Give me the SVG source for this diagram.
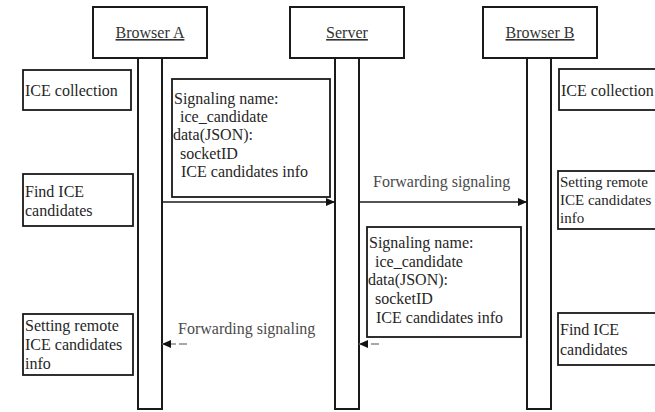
<svg xmlns="http://www.w3.org/2000/svg" width="655" height="412" viewBox="0 0 655 412">
<style>
.bg{fill:#ffffff}
.hdr{fill:#ffffff;stroke:#1a1a1a;stroke-width:2}
.life{fill:#ffffff;stroke:#1a1a1a;stroke-width:2}
.box{fill:#ffffff;stroke:#1a1a1a;stroke-width:1.8}
text{font-family:"Liberation Serif","Times New Roman",serif;font-size:16px;fill:#262626}
.ht{text-anchor:middle;text-decoration:underline;fill:#333}
.lbl{fill:#4a4a4a}
.sm{font-size:15px}
.msg{stroke:#1a1a1a;stroke-width:1.6;fill:none}
.faint{stroke:#8a8a8a;stroke-width:1.4;fill:none;stroke-dasharray:0 148 8 3 14}
</style>
<defs>
<marker id="ah" markerUnits="userSpaceOnUse" markerWidth="9" markerHeight="8" refX="9" refY="4" orient="auto">
<path d="M0,0 L9,4 L0,8 z" fill="#111"/>
</marker>
</defs>
<rect class="bg" x="0" y="0" width="655" height="412"/>

<g id="browserA">
<rect class="hdr" x="93" y="7" width="114" height="51"/>
<text class="ht" x="150" y="38">Browser A</text>
<rect class="life" x="138" y="58" width="24" height="351"/>
</g>
<g id="server">
<rect class="hdr" x="290" y="7" width="114" height="51"/>
<text class="ht" x="347" y="38">Server</text>
<rect class="life" x="335" y="58" width="24" height="351"/>
</g>
<g id="browserB">
<rect class="hdr" x="483" y="7" width="114" height="51"/>
<text class="ht" x="540" y="38">Browser B</text>
<rect class="life" x="527" y="58" width="24" height="351"/>
</g>

<g id="a-ice-collection">
<rect class="box" x="23" y="70" width="108" height="40"/>
<text x="25" y="96">ICE collection</text>
</g>
<g id="a-find-ice">
<rect class="box" x="23" y="174" width="110" height="52"/>
<text x="25" y="197">Find ICE</text>
<text x="25" y="216">candidates</text>
</g>
<g id="a-setting-remote">
<rect class="box" x="23" y="314" width="110" height="61"/>
<text x="25" y="331">Setting remote</text>
<text x="25" y="350">ICE candidates</text>
<text x="25" y="369">info</text>
</g>

<g id="signal-1">
<rect class="box" x="172" y="79" width="158" height="118"/>
<text x="174" y="104">Signaling name:</text>
<text x="180" y="122">ice_candidate</text>
<text x="173" y="140">data(JSON):</text>
<text x="180" y="159">socketID</text>
<text x="181" y="177">ICE candidates info</text>
</g>
<g id="signal-2">
<rect class="box" x="367" y="227" width="154" height="110"/>
<text x="369" y="248">Signaling name:</text>
<text x="375" y="267">ice_candidate</text>
<text x="368" y="285">data(JSON):</text>
<text x="375" y="304">socketID</text>
<text x="376" y="323">ICE candidates info</text>
</g>

<g id="b-ice-collection">
<rect class="box" x="559" y="69" width="110" height="41"/>
<text x="561" y="96">ICE collection</text>
</g>
<g id="b-setting-remote">
<rect class="box" x="558" y="171" width="110" height="58"/>
<text class="sm" x="560" y="187">Setting remote</text>
<text class="sm" x="560" y="205">ICE candidates</text>
<text class="sm" x="560" y="223">info</text>
</g>
<g id="b-find-ice">
<rect class="box" x="558" y="313" width="110" height="52"/>
<text x="560" y="335">Find ICE</text>
<text x="560" y="355">candidates</text>
</g>

<g id="connectors">
<line class="msg" x1="162" y1="202" x2="335" y2="202" marker-end="url(#ah)"/>
<line class="msg" x1="359" y1="202" x2="527" y2="202" marker-end="url(#ah)"/>
<text class="lbl" x="373" y="187">Forwarding signaling</text>
<line class="faint" x1="527" y1="344" x2="359" y2="344" marker-end="url(#ah)"/>
<line class="faint" x1="335" y1="344" x2="162" y2="344" marker-end="url(#ah)"/>
<text class="lbl" x="178" y="334">Forwarding signaling</text>
</g>
</svg>
